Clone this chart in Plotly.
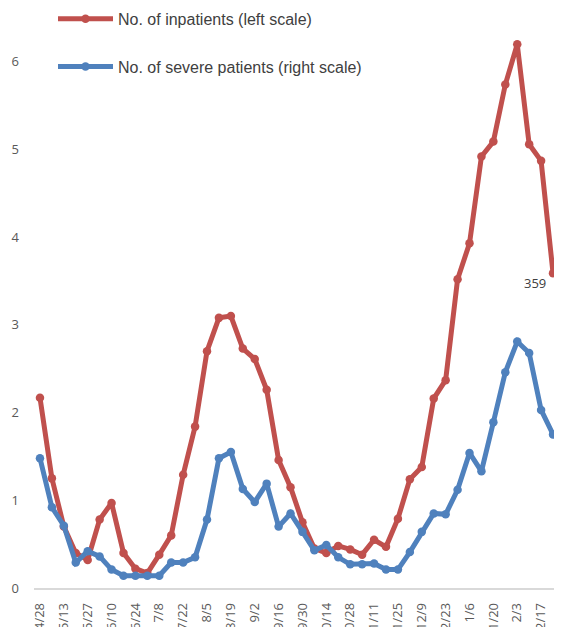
import plotly.graph_objects as go

# weekly categories (4/28 .. 2/24)
weeks = ["4/28", "5/6", "5/13", "5/20", "5/27", "6/3", "6/10", "6/17", "6/24", "7/1",
         "7/8", "7/15", "7/22", "7/29", "8/5", "8/12", "8/19", "8/26", "9/2", "9/9",
         "9/16", "9/23", "9/30", "10/7", "10/14", "10/21", "10/28", "11/4", "11/11", "11/18",
         "11/25", "12/2", "12/9", "12/16", "12/23", "12/30", "1/6", "1/13", "1/20", "1/27",
         "2/3", "2/10", "2/17", "2/24"]

# no. of inpatients (hundreds, left scale)
inpatients = [2.17, 1.25, 0.70, 0.40, 0.32, 0.78, 0.97, 0.40, 0.22, 0.17,
              0.38, 0.60, 1.29, 1.84, 2.70, 3.08, 3.10, 2.73, 2.61, 2.26,
              1.46, 1.15, 0.75, 0.45, 0.40, 0.48, 0.44, 0.38, 0.55, 0.47,
              0.79, 1.24, 1.38, 2.16, 2.37, 3.52, 3.93, 4.92, 5.09, 5.74,
              6.20, 5.06, 4.87, 3.59]

# no. of severe patients (right scale)
severe = [1.48, 0.92, 0.71, 0.29, 0.42, 0.36, 0.21, 0.14, 0.14, 0.14,
          0.14, 0.29, 0.29, 0.35, 0.78, 1.48, 1.55, 1.13, 0.98, 1.19,
          0.70, 0.85, 0.64, 0.43, 0.49, 0.35, 0.27, 0.27, 0.28, 0.21,
          0.21, 0.41, 0.64, 0.85, 0.84, 1.12, 1.54, 1.33, 1.89, 2.46,
          2.81, 2.68, 2.03, 1.75]

RED = "#C0504D"
BLUE = "#4F81BD"
GREY = "#595959"

fig = go.Figure()
fig.add_trace(go.Scatter(x=weeks, y=inpatients, mode="lines+markers",
                         name="No. of inpatients (left scale)", legendgroup="a",
                         line=dict(color=RED, width=5), marker=dict(size=8.5, color=RED)))
fig.add_trace(go.Scatter(x=weeks, y=severe, mode="lines+markers", yaxis="y2",
                         name="No. of severe patients (right scale)", legendgroup="b",
                         line=dict(color=BLUE, width=5), marker=dict(size=8.5, color=BLUE)))

fig.add_annotation(x=weeks[-1], y=inpatients[-1], text="359", showarrow=False,
                   xanchor="right", yanchor="middle", xshift=-5, yshift=-10,
                   font=dict(size=13, color="#404040", family="Open Sans"))

# page body has an 8px margin, so the figure is sized to fit the rest of the window
yr = [0, 6.613]
fig.update_layout(
    width=554, height=619,
    margin=dict(l=26, r=3, t=0, b=39, autoexpand=False),
    plot_bgcolor="white", paper_bgcolor="white",
    font=dict(family="Liberation Sans", size=13, color=GREY),
    showlegend=True,
    legend=dict(xref="container", yref="paper", x=45 / 554, y=1.0105,
                xanchor="left", yanchor="top", traceorder="grouped", tracegroupgap=24,
                itemwidth=55, font=dict(size=16, color="#404040", family="Liberation Sans"),
                bgcolor="rgba(0,0,0,0)"),
    xaxis=dict(type="category", tickmode="array", tickvals=weeks[::2], tickangle=-90,
               showgrid=False, showline=True, linecolor="#D9D9D9", linewidth=1.5,
               ticks="", range=[-0.5, len(weeks) - 0.5], automargin=False,
               tickfont=dict(size=13, color=GREY, family="Open Sans"), ticklabelstandoff=8),
    yaxis=dict(range=yr, tickvals=[0, 1, 2, 3, 4, 5, 6], showgrid=False, zeroline=False,
               showline=False, ticks="", automargin=False, ticklabelstandoff=14,
               tickfont=dict(size=13, color=GREY, family="Open Sans")),
    yaxis2=dict(range=yr, overlaying="y", side="right", visible=False, showgrid=False),
)

fig.write_html("out.html")
